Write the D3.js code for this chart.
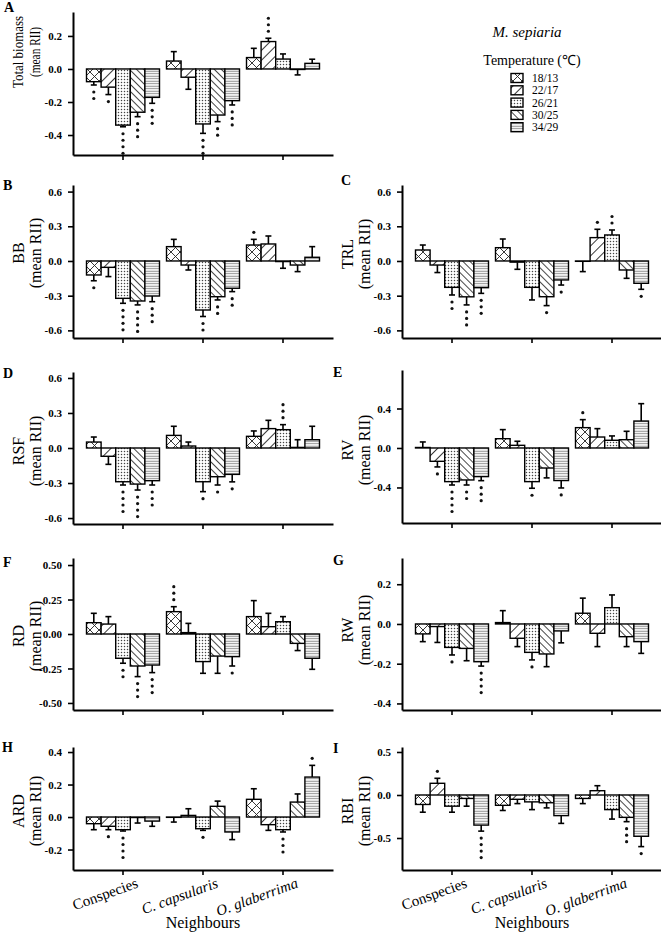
<!DOCTYPE html>
<html><head><meta charset="utf-8">
<script src="https://cdn.jsdelivr.net/npm/d3@7"></script>
<style>body{margin:0;background:#fff} svg{display:block}</style>
</head><body>
<svg id="c" width="661" height="932"></svg>
<script>
const temps = ["18/13","22/17","26/21","30/25","34/29"];
const neighbours = ["Conspecies","C. capsularis","O. glaberrima"];

// rows = neighbours, columns = temperatures
const biomassMean = [[-0.077,-0.11,-0.34,-0.262,-0.172],[0.048,-0.05,-0.333,-0.279,-0.192],[0.069,0.166,0.06,-0.003,0.034]];
const biomassErr  = [[0.02,0.045,0.01,0.027,0.036],[0.057,0.073,0.057,0.04,0.026],[0.056,0.02,0.031,0.033,0.025]];
const biomassSig  = [[2,1,4,3,3],[0,0,3,2,3],[0,3,0,0,0]];

const bbMean = [[-0.121,-0.055,-0.323,-0.346,-0.303],[0.124,-0.035,-0.424,-0.309,-0.236],[0.138,0.147,-0.005,-0.035,0.032]];
const bbErr  = [[0.05,0.08,0.043,0.034,0.049],[0.063,0.043,0.056,0.028,0.029],[0.049,0.069,0.058,0.057,0.092]];
const bbSig  = [[1,0,4,4,3],[0,0,2,2,2],[1,0,0,0,0]];

const trlMean = [[0.095,-0.035,-0.228,-0.31,-0.231],[0.115,-0.01,-0.228,-0.309,-0.164],[-0.003,0.202,0.225,-0.078,-0.193]];
const trlErr  = [[0.043,0.065,0.066,0.07,0.049],[0.075,0.062,0.109,0.077,0.044],[0.089,0.072,0.043,0.072,0.052]];
const trlSig  = [[0,0,2,3,3],[0,0,0,1,1],[0,1,2,0,1]];

const rsfMean = [[0.051,-0.071,-0.289,-0.309,-0.28],[0.108,0.017,-0.289,-0.246,-0.226],[0.1,0.166,0.157,0.005,0.071]];
const rsfErr  = [[0.043,0.069,0.028,0.051,0.037],[0.078,0.034,0.085,0.071,0.064],[0.046,0.071,0.043,0.066,0.115]];
const rsfSig  = [[0,0,4,4,3],[0,0,1,1,1],[0,0,3,0,0]];

const rvMean = [[0.005,-0.135,-0.341,-0.324,-0.29],[0.094,0.027,-0.341,-0.203,-0.33],[0.206,0.111,0.078,0.084,0.273]];
const rvErr  = [[0.056,0.057,0.034,0.051,0.041],[0.092,0.041,0.067,0.1,0.075],[0.081,0.085,0.044,0.085,0.176]];
const rvSig  = [[0,1,4,2,3],[0,0,1,0,1],[1,0,0,0,0]];

const rdMean = [[0.082,0.072,-0.176,-0.232,-0.225],[0.162,0.01,-0.2,-0.16,-0.164],[0.126,0.053,0.089,-0.068,-0.176]];
const rdErr  = [[0.068,0.054,0.036,0.077,0.055],[0.036,0.067,0.085,0.125,0.068],[0.116,0.097,0.037,0.052,0.08]];
const rdSig  = [[0,0,2,3,3],[3,0,0,0,1],[0,0,0,0,0]];

const rwMean = [[-0.05,-0.013,-0.118,-0.123,-0.19],[0.007,-0.072,-0.143,-0.151,-0.035],[0.054,-0.047,0.082,-0.064,-0.089]];
const rwErr  = [[0.039,0.08,0.038,0.062,0.022],[0.06,0.042,0.038,0.064,0.06],[0.076,0.067,0.064,0.05,0.059]];
const rwSig  = [[0,0,1,0,4],[0,0,1,0,0],[0,0,0,0,0]];

const ardMean = [[-0.041,-0.057,-0.078,-0.003,-0.025],[-0.002,0.01,-0.072,0.066,-0.092],[0.109,-0.047,-0.078,0.092,0.246]];
const ardErr  = [[0.037,0.021,0.008,0.034,0.032],[0.029,0.041,0.01,0.032,0.047],[0.065,0.035,0.014,0.05,0.072]];
const ardSig  = [[0,1,4,0,0],[0,0,1,0,0],[0,0,3,0,1]];

const rbiMean = [[-0.11,0.136,-0.13,-0.04,-0.35],[-0.12,-0.05,-0.08,-0.09,-0.24],[-0.04,0.05,-0.17,-0.26,-0.48]];
const rbiErr  = [[0.09,0.058,0.07,0.09,0.07],[0.06,0.05,0.09,0.06,0.09],[0.06,0.058,0.11,0.05,0.12]];
const rbiSig  = [[0,1,0,0,4],[0,0,0,0,0],[0,0,0,3,1]];

const ticksA = [-0.4,-0.2,0.0,0.2];
const ticksBCD = [-0.6,-0.3,0.0,0.3,0.6];
const ticksE = [-0.4,0.0,0.4];
const ticksF = [-0.50,-0.25,0.00,0.25,0.50];
const ticksG = [-0.4,-0.2,0.0,0.2];
const ticksH = [-0.2,0.0,0.2,0.4];
const ticksI = [-0.5,0.0,0.5];

const panels = [
 {L:"A", t1:"Total biomass", mean:biomassMean, err:biomassErr, sig:biomassSig, ticks:ticksA, dec:1, x0:73, top:12, bottom:155, dom:[-0.521,0.345], lp:[4,12], ty:52, lab:false, fit:true},
 {L:"B", t1:"BB", mean:bbMean, err:bbErr, sig:bbSig, ticks:ticksBCD, dec:1, x0:73, top:185, bottom:338, dom:[-0.666,0.657], lp:[3,190], ty:253, lab:false},
 {L:"C", t1:"TRL", mean:trlMean, err:trlErr, sig:trlSig, ticks:ticksBCD, dec:1, x0:402, top:185, bottom:338, dom:[-0.666,0.657], lp:[341,185], ty:254, lab:false},
 {L:"D", t1:"RSF", mean:rsfMean, err:rsfErr, sig:rsfSig, ticks:ticksBCD, dec:1, x0:73, top:372, bottom:524, dom:[-0.651,0.651], lp:[3,378], ty:451, lab:false},
 {L:"E", t1:"RV", mean:rvMean, err:rvErr, sig:rvSig, ticks:ticksE, dec:1, x0:402, top:370, bottom:523, dom:[-0.76,0.79], lp:[333,377], ty:450, lab:false},
 {L:"F", t1:"RD", mean:rdMean, err:rdErr, sig:rdSig, ticks:ticksF, dec:2, x0:73, top:558, bottom:710, dom:[-0.551,0.551], lp:[3,567], ty:636, lab:false},
 {L:"G", t1:"RW", mean:rwMean, err:rwErr, sig:rwSig, ticks:ticksG, dec:1, x0:402, top:558, bottom:710, dom:[-0.433,0.332], lp:[333,565], ty:630, lab:false},
 {L:"H", t1:"ARD", mean:ardMean, err:ardErr, sig:ardSig, ticks:ticksH, dec:1, x0:73, top:747, bottom:870, dom:[-0.326,0.431], lp:[2,752], ty:811, lab:true},
 {L:"I", t1:"RBI", mean:rbiMean, err:rbiErr, sig:rbiSig, ticks:ticksI, dec:1, x0:402, top:747, bottom:870, dom:[-0.872,0.558], lp:[333,753], ty:811, lab:true}
];

const FONT = '"Liberation Serif","Times New Roman",serif';
const svg = d3.select("#c");
const defs = svg.append("defs");
function linePat(id, size, rot, sw, col){
  const p = defs.append("pattern").attr("id",id).attr("patternUnits","userSpaceOnUse")
    .attr("width",size).attr("height",size).attr("patternTransform",`rotate(${rot})`);
  p.append("rect").attr("width",size).attr("height",size).attr("fill","#fff");
  p.append("line").attr("x1",size/2).attr("x2",size/2).attr("y1",0).attr("y2",size).attr("stroke",col).attr("stroke-width",sw);
  return p;
}
// 18/13 crosshatch
{ const s=9; const p = defs.append("pattern").attr("id","p0").attr("patternUnits","userSpaceOnUse").attr("width",s).attr("height",s);
  p.append("rect").attr("width",s).attr("height",s).attr("fill","#fff");
  p.append("path").attr("d",`M0,0L${s},${s}M${s},0L0,${s}`).attr("stroke","#222").attr("stroke-width",0.9); }
linePat("p1", 7, 45, 0.9, "#222");      // 22/17 "/"
{ const s=3; const p = defs.append("pattern").attr("id","p2").attr("patternUnits","userSpaceOnUse").attr("width",s).attr("height",s);
  p.append("rect").attr("width",s).attr("height",s).attr("fill","#fff");
  p.append("circle").attr("cx",1.5).attr("cy",1.5).attr("r",0.75).attr("fill","#444"); }
linePat("p3", 5, -45, 0.9, "#333");     // 30/25 "\"
{ const s=2.5; const p = defs.append("pattern").attr("id","p4").attr("patternUnits","userSpaceOnUse").attr("width",s).attr("height",s);
  p.append("rect").attr("width",s).attr("height",s).attr("fill","#fff");
  p.append("line").attr("x1",0).attr("x2",s).attr("y1",1.2).attr("y2",1.2).attr("stroke","#888").attr("stroke-width",1); }

const GW = 73;
panels.forEach(p=>{
  const g = svg.append("g");
  const x = d3.scaleBand().domain(neighbours).range([p.x0, p.x0+260]).paddingInner(0).paddingOuter(0.125);
  const xt = d3.scaleBand().domain(temps).range([0, GW]);
  const y = d3.scaleLinear().domain(p.dom).range([p.bottom, p.top]);
  neighbours.forEach((n,i)=>{
    const gx = x(n) + (x.bandwidth()-GW)/2;
    temps.forEach((t,j)=>{
      const v = p.mean[i][j], e = p.err[i][j], s = p.sig[i][j];
      const bx = gx + xt(t), bw = xt.bandwidth(), cx = bx + bw/2;
      const neg = v < 0;
      const yv = y(v), ye = y(neg ? v - e : v + e);
      g.append("line").attr("x1",cx).attr("x2",cx).attr("y1",yv).attr("y2",ye).attr("stroke","#000").attr("stroke-width",1.6);
      g.append("line").attr("x1",cx-3).attr("x2",cx+3).attr("y1",ye).attr("y2",ye).attr("stroke","#000").attr("stroke-width",1.6);
      g.append("rect").attr("x",bx).attr("width",bw)
        .attr("y",Math.min(y(0),yv)).attr("height",Math.abs(yv-y(0)))
        .attr("fill",`url(#p${j})`).attr("stroke","#000").attr("stroke-width",1.4);
      const dir = neg ? 1 : -1;
      for(let k=0;k<s;k++){
        g.append("circle").attr("cx",cx).attr("cy",ye + dir*(7 + k*6.5)).attr("r",1.6).attr("fill","#111");
      }
    });
  });
  const ya = g.append("g").attr("transform",`translate(${p.x0},0)`)
    .call(d3.axisLeft(y).tickValues(p.ticks).tickFormat(d=>d.toFixed(p.dec)).tickSize(5).tickSizeOuter(0).tickPadding(6));
  ya.selectAll("text").attr("font-size",11).attr("font-weight","bold").attr("font-family",FONT);
  const xa = g.append("g").attr("transform",`translate(0,${p.bottom})`)
    .call(d3.axisBottom(x).tickSize(5).tickSizeOuter(0).tickFormat(""));
  [ya,xa].forEach(a=>{a.select(".domain").attr("stroke-width",2);a.selectAll(".tick line").attr("stroke-width",1.6);});
  if(p.lab){
    neighbours.forEach((n,i)=>{
      g.append("text").attr("text-anchor","end").attr("font-family",FONT)
        .attr("transform",`translate(${x(n)+x.bandwidth()/2+16},${p.bottom+17}) rotate(-20)`)
        .attr("font-size",15).attr("font-style", i===0 ? "normal" : "italic").text(n);
    });
    g.append("text").attr("x",p.x0+130).attr("y",928).attr("text-anchor","middle").attr("font-family",FONT).attr("font-size",16).text("Neighbours");
  }
  // titles
  const t1 = g.append("text").attr("transform",`translate(${p.x0-55},${p.ty}) rotate(-90)`).attr("font-family",FONT)
    .attr("text-anchor","middle").attr("dominant-baseline","central").attr("font-size",16).text(p.t1);
  const t2 = g.append("text").attr("transform",`translate(${p.x0-38},${p.ty}) rotate(-90)`).attr("font-family",FONT)
    .attr("text-anchor","middle").attr("dominant-baseline","central").attr("font-size",16).text("(mean RII)");
  if(p.fit){
    t1.attr("font-size",15).attr("textLength",72).attr("lengthAdjust","spacingAndGlyphs");
    t2.attr("font-size",15).attr("textLength",50).attr("lengthAdjust","spacingAndGlyphs");
  }
  g.append("text").attr("x",p.lp[0]).attr("y",p.lp[1]).attr("font-family",FONT).attr("font-size",14).attr("font-weight","bold").text(p.L);
});

// legend
const lg = svg.append("g").attr("font-family",FONT);
lg.append("text").attr("x",527).attr("y",37).attr("text-anchor","middle").attr("font-size",15).attr("font-style","italic").text("M. sepiaria");
lg.append("text").attr("x",532).attr("y",65).attr("text-anchor","middle").attr("font-size",14).text("Temperature (℃)");
temps.forEach((t,j)=>{
  const cy = 78 + j*12.3;
  lg.append("rect").attr("x",511).attr("y",cy-4.5).attr("width",12).attr("height",9)
    .attr("fill",`url(#p${j})`).attr("stroke","#000").attr("stroke-width",1.4);
  lg.append("text").attr("x",532).attr("y",cy+4).attr("font-size",11.5).text(t);
});
</script>
</body></html>
